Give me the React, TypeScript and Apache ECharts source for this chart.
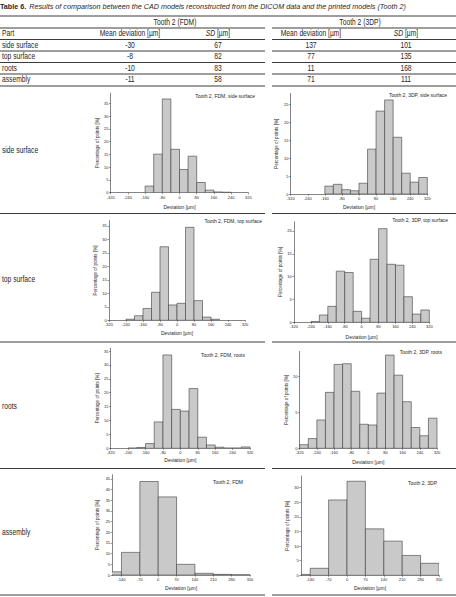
import React, { useEffect, useRef } from "react";
import * as echarts from "echarts";

const W = 456;
const H = 597;
const TABLE_FONT = "'Liberation Sans', Arial, sans-serif";
const PLOT_FONT = "'Liberation Sans', Arial, sans-serif";
const INK = "#262626";
const NARROW = 0.79;

// ---- table data ----
const titlePrefix = "Table 6.";
const titleText =
  "Results of comparison between the CAD models reconstructed from the DICOM data and the printed models (Tooth 2)";
const groupHeaders = ["Tooth 2 (FDM)", "Tooth 2 (3DP)"];
const partHeader = "Part";
const meanHeader = "Mean deviation [µm]";
const parts = ["side surface", "top surface", "roots", "assembly"];
const fdmMean = [-30, -8, -10, -11];
const fdmSD = [67, 82, 83, 58];
const dpMean = [137, 77, 11, 71];
const dpSD = [101, 135, 168, 111];

// ---- histogram data ----
const ticks320 = [-320, -240, -160, -80, 0, 80, 160, 240, 320];
const ticks350 = [-140, -70, 0, 70, 140, 210, 280, 350];

const fdmSideValues = [2.6, 15.1, 36.7, 17.0, 9.1, 14.3, 4.0, 1.0, 0.3, 0.2];
const dpSideValues = [2.2, 2.7, 1.2, 0.9, 3.0, 12.5, 23.1, 26.2, 15.8, 5.8, 3.3, 4.6];
const fdmTopValues = [0.4, 1.7, 4.4, 10.4, 27.3, 5.7, 6.3, 34.5, 7.3, 1.2, 0.4];
const dpTopValues = [0.15, 1.6, 3.5, 11.2, 10.9, 2.4, 0.9, 13.8, 20.5, 12.7, 12.5, 5.6, 1.8, 2.7];
const fdmRootsValues = [0.1, 0.3, 1.7, 9.5, 33.6, 14.0, 13.4, 21.5, 4.0, 1.2, 0.4, 0.1, 0.1, 0.5];
const dpRootsValues = [0.5, 1.35, 3.95, 7.8, 11.7, 11.8, 7.95, 3.35, 3.25, 7.7, 13.0, 10.2, 6.5, 2.9, 1.75, 4.2];
const fdmAsmValues = [1.5, 10.6, 43.8, 36.6, 5.0, 0.8, 0.3, 0.1];
const dpAsmValues = [0.3, 2.4, 25.8, 32.2, 15.9, 11.7, 6.8, 4.1];

const hists = [
  { title: "Tooth 2, FDM, side surface", start: -160, bin: 40, values: fdmSideValues, xMin: -320, xMax: 320, xTicks: ticks320, yMax: 39, yTicks: [0, 5, 10, 15, 20, 25, 30, 35] },
  { title: "Tooth 2, 3DP, side surface", start: -160, bin: 40, values: dpSideValues, xMin: -320, xMax: 320, xTicks: ticks320, yMax: 28, yTicks: [0, 5, 10, 15, 20, 25] },
  { title: "Tooth 2, FDM, top surface", start: -240, bin: 40, values: fdmTopValues, xMin: -320, xMax: 320, xTicks: ticks320, yMax: 37, yTicks: [0, 5, 10, 15, 20, 25, 30, 35] },
  { title: "Tooth 2, 3DP, top surface", start: -240, bin: 40, values: dpTopValues, xMin: -320, xMax: 320, xTicks: ticks320, yMax: 22, yTicks: [0, 5, 10, 15, 20] },
  { title: "Tooth 2, FDM, roots", start: -240, bin: 40, values: fdmRootsValues, xMin: -320, xMax: 320, xTicks: ticks320, yMax: 36, yTicks: [0, 5, 10, 15, 20, 25, 30, 35] },
  { title: "Tooth 2, 3DP, roots", start: -320, bin: 40, values: dpRootsValues, xMin: -320, xMax: 320, xTicks: ticks320, yMax: 13.5, yTicks: [0, 5, 10] },
  { title: "Tooth 2, FDM", start: -210, bin: 70, values: fdmAsmValues, xMin: -175, xMax: 350, xTicks: ticks350, yMax: 47, yTicks: [0, 5, 10, 15, 20, 25, 30, 35, 40, 45] },
  { title: "Tooth 2, 3DP", start: -210, bin: 70, values: dpAsmValues, xMin: -175, xMax: 350, xTicks: ticks350, yMax: 34, yTicks: [0, 5, 10, 15, 20, 25, 30] },
];

// ---- layout (pixels) ----
const gridBoxes = [
  { left: 110.7, top: 93.1, width: 137.6, height: 99.6, titleX: 255, titleY: 95.5, yGap: 8.2, xGap: 11.8 },
  { left: 290.7, top: 93.5, width: 136.6, height: 100.5, titleX: 447, titleY: 95, yGap: 11.5, xGap: 10.8 },
  { left: 109, top: 220.6, width: 136, height: 99.7, titleX: 262, titleY: 221, yGap: 11.5, xGap: 10.5 },
  { left: 294, top: 221.8, width: 135.3, height: 100.5, titleX: 448, titleY: 220, yGap: 11.5, xGap: 11.9 },
  { left: 110.7, top: 348.3, width: 139.3, height: 100, titleX: 245, titleY: 355, yGap: 10.9, xGap: 9.2 },
  { left: 299.7, top: 351.5, width: 137.3, height: 96.8, titleX: 442, titleY: 352, yGap: 8.9, xGap: 10.9 },
  { left: 112.3, top: 474.7, width: 137.7, height: 100.3, titleX: 243, titleY: 482, yGap: 12.5, xGap: 10.8 },
  { left: 301, top: 476, width: 138, height: 99.3, titleX: 437, titleY: 483, yGap: 10.2, xGap: 10.5 },
];

const hLinesFull = [16];
const hLinesSplit = [28, 39.5, 51, 62.5, 74, 86, 213.5, 342, 468.5, 595];
const splitGap = [265, 272];
const rowTextY = [45, 56.5, 68, 79.5];
const headerY = 22.3;
const partHeaderY = 33.5;
const colX = { part: 2, fdmMean: 130, fdmSD: 218, dpMean: 311, dpSD: 406, fdmGroup: 175, dpGroup: 360 };
const sectionLabelY = [150, 279, 406, 532];

function tableText(text: string, x: number, y: number, align: string, extra: any = {}) {
  return {
    type: "text",
    x,
    y,
    scaleX: NARROW,
    silent: true,
    style: {
      text,
      fill: INK,
      fontSize: 8.5,
      fontFamily: TABLE_FONT,
      align,
      verticalAlign: "middle",
      ...extra,
    },
  };
}

function buildOption() {
  const graphic: any[] = [];

  graphic.push({
    type: "text",
    x: 0,
    y: 6,
    scaleX: 0.9,
    silent: true,
    style: {
      text: `{b|${titlePrefix}} {i|${titleText}}`,
      verticalAlign: "middle",
      rich: {
        b: { fontSize: 8, fontWeight: "bold", fontFamily: TABLE_FONT, fill: INK },
        i: { fontSize: 8, fontStyle: "italic", fontFamily: TABLE_FONT, fill: INK },
      },
    },
  });

  const lineStyle = { stroke: "#3c3c3c", lineWidth: 1 };
  hLinesFull.forEach((y) =>
    graphic.push({ type: "line", silent: true, shape: { x1: 0, y1: y, x2: W, y2: y }, style: lineStyle })
  );
  hLinesSplit.forEach((y) => {
    graphic.push({ type: "line", silent: true, shape: { x1: 0, y1: y, x2: splitGap[0], y2: y }, style: lineStyle });
    graphic.push({ type: "line", silent: true, shape: { x1: splitGap[1], y1: y, x2: W, y2: y }, style: lineStyle });
  });

  graphic.push(tableText(groupHeaders[0], colX.fdmGroup, headerY, "center"));
  graphic.push(tableText(groupHeaders[1], colX.dpGroup, headerY, "center"));
  graphic.push(tableText(partHeader, colX.part, partHeaderY, "left"));
  graphic.push(tableText(meanHeader, colX.fdmMean, partHeaderY, "center"));
  graphic.push(tableText(meanHeader, colX.dpMean, partHeaderY, "center"));
  const sdRich = {
    text: "{i|SD} [µm]",
    rich: { i: { fontStyle: "italic", fontSize: 8.5, fontFamily: TABLE_FONT, fill: INK } },
  };
  graphic.push(tableText("", colX.fdmSD, partHeaderY, "center", sdRich));
  graphic.push(tableText("", colX.dpSD, partHeaderY, "center", sdRich));

  parts.forEach((p, i) => {
    const y = rowTextY[i];
    graphic.push(tableText(p, colX.part, y, "left"));
    graphic.push(tableText(String(fdmMean[i]), colX.fdmMean, y, "center"));
    graphic.push(tableText(String(fdmSD[i]), colX.fdmSD, y, "center"));
    graphic.push(tableText(String(dpMean[i]), colX.dpMean, y, "center"));
    graphic.push(tableText(String(dpSD[i]), colX.dpSD, y, "center"));
    graphic.push(tableText(p, colX.part, sectionLabelY[i], "left"));
  });

  hists.forEach((h, i) => {
    const g = gridBoxes[i];
    graphic.push({
      type: "text",
      x: g.titleX,
      y: g.titleY,
      silent: true,
      style: {
        text: h.title,
        fill: INK,
        fontSize: 5,
        fontFamily: PLOT_FONT,
        align: "right",
        verticalAlign: "middle",
      },
    });
  });

  const axisColor = "#333";
  const grid = gridBoxes.map((g) => ({ left: g.left, top: g.top, width: g.width, height: g.height, containLabel: false }));
  const xAxis = hists.map((h, i) => ({
    gridIndex: i,
    type: "value",
    min: h.xMin,
    max: h.xMax,
    name: "Deviation [µm]",
    nameLocation: "middle",
    nameGap: gridBoxes[i].xGap,
    nameTextStyle: { fontSize: 5, fontFamily: PLOT_FONT, color: INK },
    axisLine: { show: true, onZero: false, lineStyle: { color: axisColor, width: 0.6 } },
    axisTick: { show: true, length: 1.6, customValues: h.xTicks, lineStyle: { color: axisColor, width: 0.5 } },
    axisLabel: { customValues: h.xTicks, fontSize: 4, margin: 2.5, color: INK, fontFamily: PLOT_FONT, hideOverlap: false },
    splitLine: { show: false },
  }));
  const yAxis = hists.map((h, i) => ({
    gridIndex: i,
    type: "value",
    min: 0,
    max: h.yMax,
    name: "Percentage of points [%]",
    nameLocation: "middle",
    nameGap: gridBoxes[i].yGap,
    nameTextStyle: { fontSize: 4.6, fontFamily: PLOT_FONT, color: INK },
    axisLine: { show: true, onZero: false, lineStyle: { color: axisColor, width: 0.6 } },
    axisTick: { show: true, length: 1.6, customValues: h.yTicks, lineStyle: { color: axisColor, width: 0.5 } },
    axisLabel: { customValues: h.yTicks, fontSize: 4, margin: 2.2, color: INK, fontFamily: PLOT_FONT, hideOverlap: false },
    splitLine: { show: false },
  }));

  const series = hists.map((h, i) => ({
    type: "custom",
    xAxisIndex: i,
    yAxisIndex: i,
    clip: true,
    silent: true,
    encode: { x: [0, 1], y: 2 },
    data: h.values.map((v, k) => [h.start + k * h.bin, h.start + (k + 1) * h.bin, v]),
    renderItem: (params: any, api: any) => {
      const p0 = api.coord([api.value(0), api.value(2)]);
      const p1 = api.coord([api.value(1), 0]);
      return {
        type: "rect",
        shape: { x: p0[0], y: p0[1], width: p1[0] - p0[0], height: p1[1] - p0[1] },
        style: { fill: "#c9c9c9", stroke: "#3d3d3d", lineWidth: 0.6 },
      };
    },
  }));

  return {
    animation: false,
    backgroundColor: "#ffffff",
    grid,
    xAxis,
    yAxis,
    series,
    graphic,
  };
}

export default function App() {
  const ref = useRef<HTMLDivElement>(null);
  useEffect(() => {
    if (!ref.current) return;
    const chart = echarts.init(ref.current, null, { renderer: "svg", width: W, height: H });
    chart.setOption(buildOption() as any);
    return () => chart.dispose();
  }, []);
  return (
    <div
      ref={ref}
      style={{ position: "absolute", left: 0, top: 0, width: W, height: H, background: "#fff" }}
    />
  );
}
